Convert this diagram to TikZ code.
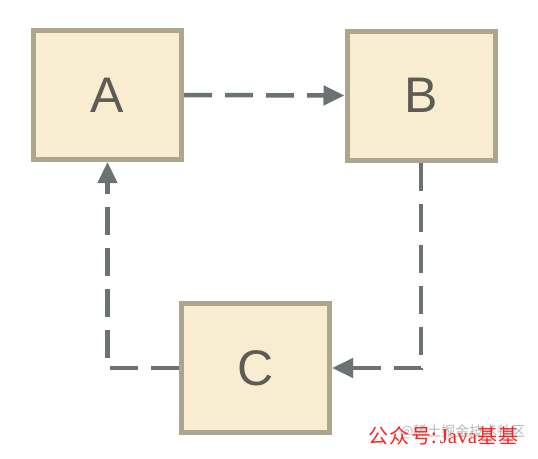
\documentclass[tikz,border=0pt]{standalone}
\usepackage{fontspec}
\setmainfont{Liberation Sans}
\newfontfamily\cjk{Noto Sans CJK SC}
\newfontfamily\serifw{Liberation Serif}
\usetikzlibrary{arrows.meta}
\definecolor{boxfill}{HTML}{F8EDD0}
\definecolor{boxline}{HTML}{ABA68C}
\definecolor{lettercol}{HTML}{5E5A55}
\definecolor{arrowcol}{HTML}{6B7274}
\definecolor{wmgray}{HTML}{B8B8B8}
\definecolor{wmred}{HTML}{FF2020}
\tikzset{
  box/.style={draw=boxline, fill=boxfill, line width=5pt, minimum width=148pt, minimum height=129pt, inner sep=0pt, text=lettercol, font=\fontsize{50}{50}\selectfont},
  conn/.style={draw=arrowcol, line width=4.5pt, dash pattern=on 28pt off 13pt, -{Triangle[length=21pt,width=19pt]}},
}
\begin{document}
\begin{tikzpicture}[x=1pt,y=-1pt]
\useasboundingbox (0,0) rectangle (538,458);
\node[box] (A) at (107.5,95) {A};
\node[box] (B) at (421,95.5) {B};
\node[box] (C) at (255.5,368) {C};
\coordinate (cr) at (421,368);
\coordinate (cl) at (107.5,368);
\draw[conn] (A.east) -- (B.west);
\draw[conn] (B.south) -- (cr) -- (C.east);
\draw[conn] (C.west) -- (cl) -- (A.south);
\node[anchor=west, text=wmgray, font=\cjk\fontsize{14}{14}\selectfont, inner sep=0pt] (wm1) at (400,432) {@稀土掘金技术社区};
\node[anchor=west, text=wmred, font=\cjk\fontsize{20}{20}\selectfont, inner sep=0pt] (wm2) at (368,436) {公\hspace{1.5pt}众\hspace{1.5pt}号:\hspace{3pt}{\serifw\fontsize{21}{21}\selectfont Java}基\hspace{1pt}基};
\end{tikzpicture}
\end{document}
